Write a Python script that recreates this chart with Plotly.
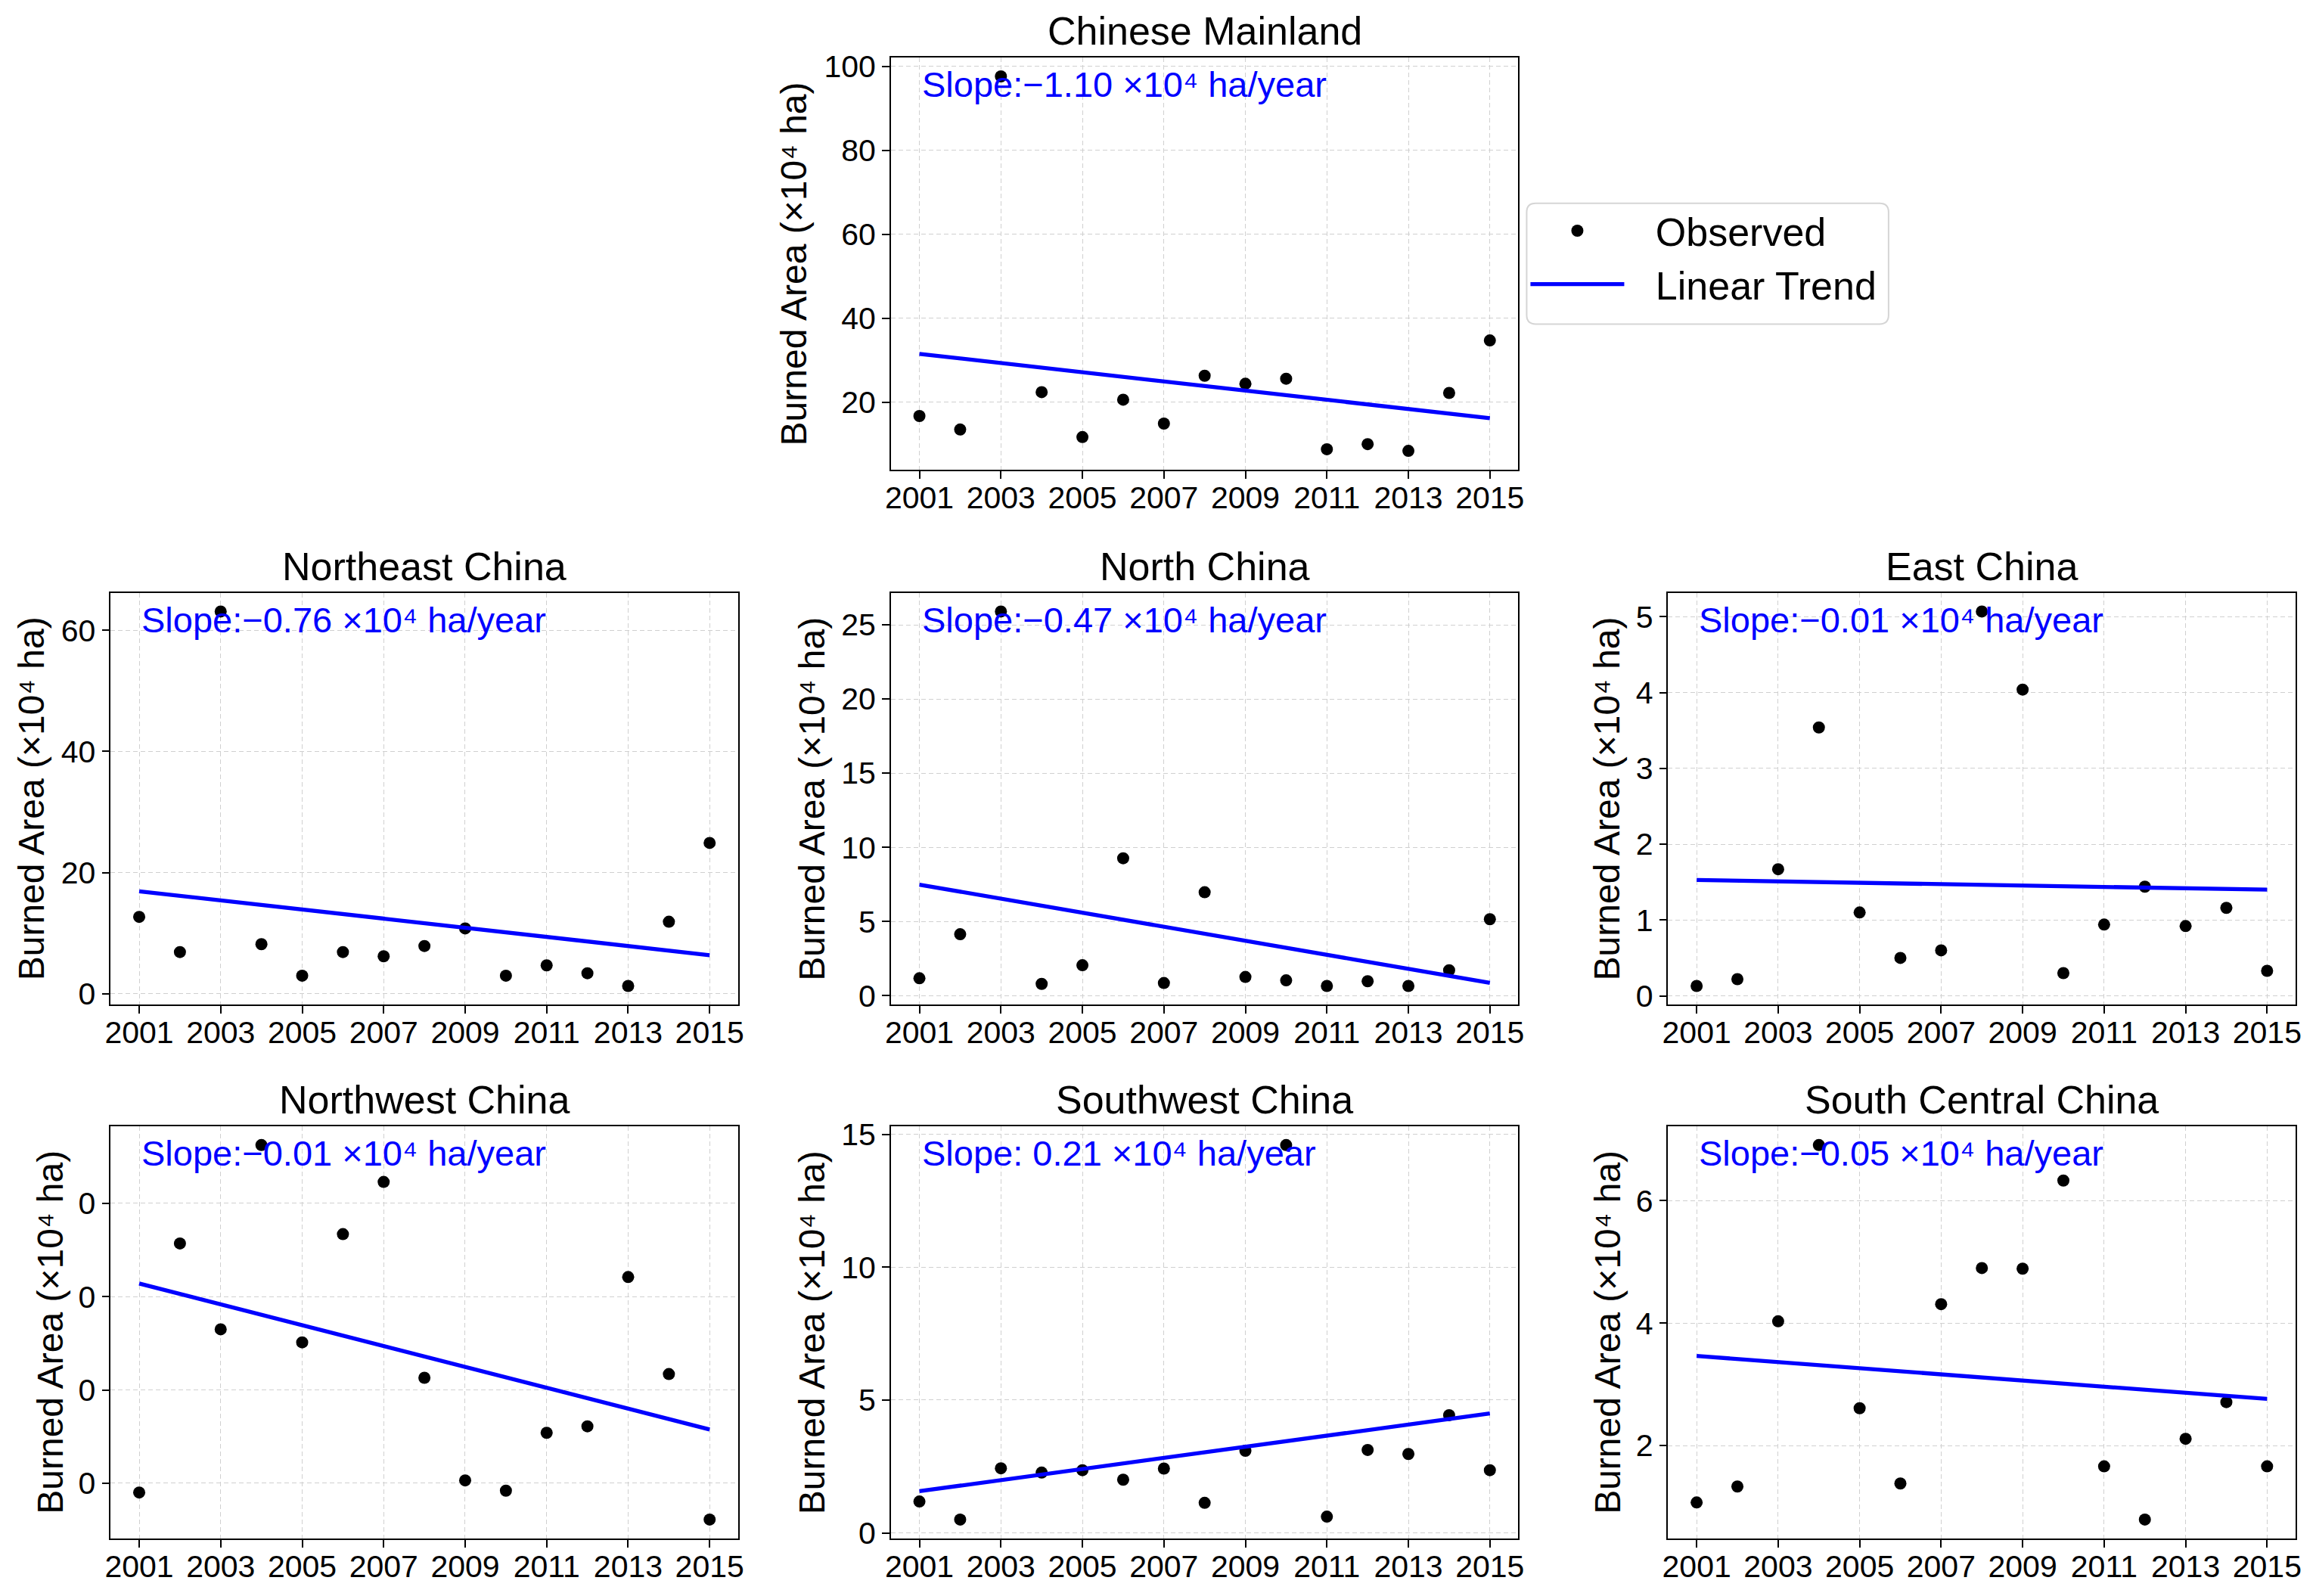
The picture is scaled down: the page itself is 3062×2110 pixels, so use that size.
import numpy as np
import plotly.graph_objects as go

years = list(range(2001, 2016))
year_ticks = [2001, 2003, 2005, 2007, 2009, 2011, 2013, 2015]

regions = ["Chinese Mainland", "Northeast China", "North China", "East China",
           "Northwest China", "Southwest China", "South Central China"]

chinese_mainland = [16.7, 13.5, 97.6, 22.4, 11.7, 20.6, 14.9, 26.3, 24.4, 25.6, 8.8, 10.0, 8.4, 22.2, 34.7]
northeast = [12.7, 6.9, 63.1, 8.2, 3.0, 6.9, 6.2, 7.9, 10.8, 3.0, 4.7, 3.4, 1.3, 11.9, 24.9]
north = [1.17, 4.14, 25.9, 0.79, 2.05, 9.26, 0.85, 6.97, 1.26, 1.03, 0.65, 0.97, 0.65, 1.71, 5.15]
east = [0.13, 0.22, 1.67, 3.54, 1.10, 0.50, 0.60, 5.07, 4.04, 0.30, 0.94, 1.44, 0.92, 1.16, 0.33]
northwest = [0.090, 0.357, 0.265, 0.4625, 0.251, 0.367, 0.423, 0.213, 0.103, 0.092, 0.154, 0.161, 0.321, 0.217, 0.061]
southwest = [1.18, 0.50, 2.43, 2.27, 2.36, 2.00, 2.42, 1.13, 3.09, 14.6, 0.61, 3.12, 2.97, 4.43, 2.36]
south_central = [1.07, 1.33, 4.03, 6.91, 2.61, 1.38, 4.31, 4.90, 4.89, 6.33, 1.66, 0.79, 2.11, 2.71, 1.66]

slope_labels = ["Slope:\u22121.10 \u00d710\u2074 ha/year",
                "Slope:\u22120.76 \u00d710\u2074 ha/year",
                "Slope:\u22120.47 \u00d710\u2074 ha/year",
                "Slope:\u22120.01 \u00d710\u2074 ha/year",
                "Slope:\u22120.01 \u00d710\u2074 ha/year",
                "Slope: 0.21 \u00d710\u2074 ha/year",
                "Slope:\u22120.05 \u00d710\u2074 ha/year"]

legend_names = ["Observed", "Linear Trend"]
y_dticks = [20, 20, 5, 1, 0.1, 5, 2]
y_formats = ["d", "d", "d", "d", ".0f", "d", "d"]

series = [chinese_mainland, northeast, north, east, northwest, southwest, south_central]

# page has an 8px body margin; figure sized so page fills 3062x2110 exactly
W, H = 3046, 2094
FONT = "Liberation Sans, Arial, sans-serif"

# layout geometry (figure pixels)
col_left = [131, 1168, 2201]
ax_w = 834
row_top = [57, 774, 1489]
ax_h = 552
positions = [(0, 1), (1, 0), (1, 1), (1, 2), (2, 0), (2, 1), (2, 2)]
ylabel_shift = [-128, -104, -104, -80, -80, -104, -80]

fig = go.Figure()
annotations = []
layout = {}
SP = "\u2002\u2009"

for i, (name, vals) in enumerate(zip(regions, series)):
    k = "" if i == 0 else str(i + 1)
    r, c = positions[i]
    x0 = col_left[c] / W
    x1 = (col_left[c] + ax_w) / W
    y1 = 1 - row_top[r] / H
    y0 = 1 - (row_top[r] + ax_h) / H

    x = np.array(years, dtype=float)
    y = np.array(vals, dtype=float)
    slope, intercept = np.polyfit(x, y, 1)
    trend = slope * x + intercept

    lo = min(y.min(), trend.min())
    hi = max(y.max(), trend.max())
    pad = 0.05 * (hi - lo)

    fig.add_trace(go.Scatter(
        x=years, y=vals, mode="markers",
        marker=dict(color="black", size=16, line=dict(width=0)),
        name=SP + legend_names[0], showlegend=(i == 0),
        xaxis="x" + k, yaxis="y" + k))
    fig.add_trace(go.Scatter(
        x=years, y=trend, mode="lines",
        line=dict(color="#0000ff", width=5.3),
        name=SP + legend_names[1], showlegend=(i == 0),
        xaxis="x" + k, yaxis="y" + k))

    axis_common = dict(
        showline=True, linecolor="black", linewidth=1.6, mirror=True,
        ticks="outside", ticklen=10, tickwidth=1.6, tickcolor="black",
        showgrid=True, gridcolor="#d0d0d0", gridwidth=1.3, griddash="6px,4px",
        zeroline=False,
        tickfont=dict(family=FONT, size=41, color="black"),
    )
    layout["xaxis" + k] = dict(
        axis_common, domain=[x0, x1], anchor="y" + k,
        range=[2000.3, 2015.7], tickmode="array", tickvals=year_ticks,
        ticktext=[str(t) for t in year_ticks], ticklabelstandoff=-10)
    layout["yaxis" + k] = dict(
        axis_common, domain=[y0, y1], anchor="x" + k,
        range=[lo - pad, hi + pad], tickmode="linear", tick0=0,
        dtick=y_dticks[i], tickformat=y_formats[i])

    annotations.append(dict(
        text=name, xref="x" + k + " domain", yref="y" + k + " domain",
        x=0.5, y=1, xanchor="center", yanchor="bottom", yshift=4,
        showarrow=False, font=dict(family=FONT, size=52, color="black")))
    annotations.append(dict(
        text=slope_labels[i], xref="x" + k + " domain", yref="y" + k + " domain",
        x=0.047, y=0.95, xanchor="left", yanchor="top", yshift=20,
        showarrow=False, font=dict(family=FONT, size=47, color="#0000ff")))
    annotations.append(dict(
        text="Burned Area (\u00d710\u2074 ha)", xref="x" + k + " domain",
        yref="y" + k + " domain", x=0, y=0.5, xanchor="center", yanchor="middle",
        xshift=ylabel_shift[i], textangle=-90,
        showarrow=False, font=dict(family=FONT, size=48, color="black")))

# rounded legend frame (figure pixels -> paper fractions)
bx0, bx1 = 2013 / W, 2494 / W
by_top, by_bot = 1 - 252 / H, 1 - 414 / H
rx, ry = 12 / W, 12 / H
frame_path = (
    f"M {bx0 + rx},{by_top} L {bx1 - rx},{by_top} Q {bx1},{by_top} {bx1},{by_top - ry} "
    f"L {bx1},{by_bot + ry} Q {bx1},{by_bot} {bx1 - rx},{by_bot} "
    f"L {bx0 + rx},{by_bot} Q {bx0},{by_bot} {bx0},{by_bot + ry} "
    f"L {bx0},{by_top - ry} Q {bx0},{by_top} {bx0 + rx},{by_top} Z")

fig.update_layout(
    width=W, height=H,
    margin=dict(l=0, r=0, t=0, b=0),
    paper_bgcolor="white", plot_bgcolor="white",
    annotations=annotations,
    shapes=[dict(type="path", path=frame_path, xref="paper", yref="paper",
                 line=dict(color="#d5d5d5", width=2), fillcolor="white",
                 layer="above")],
    legend=dict(
        x=2013 / W, y=1 - 248 / H, xanchor="left", yanchor="top",
        bgcolor="rgba(0,0,0,0)", borderwidth=0,
        font=dict(family=FONT, size=52, color="black"),
        itemwidth=124, tracegroupgap=0),
    **layout)

fig.write_html("out.html", config={"displayModeBar": False})
